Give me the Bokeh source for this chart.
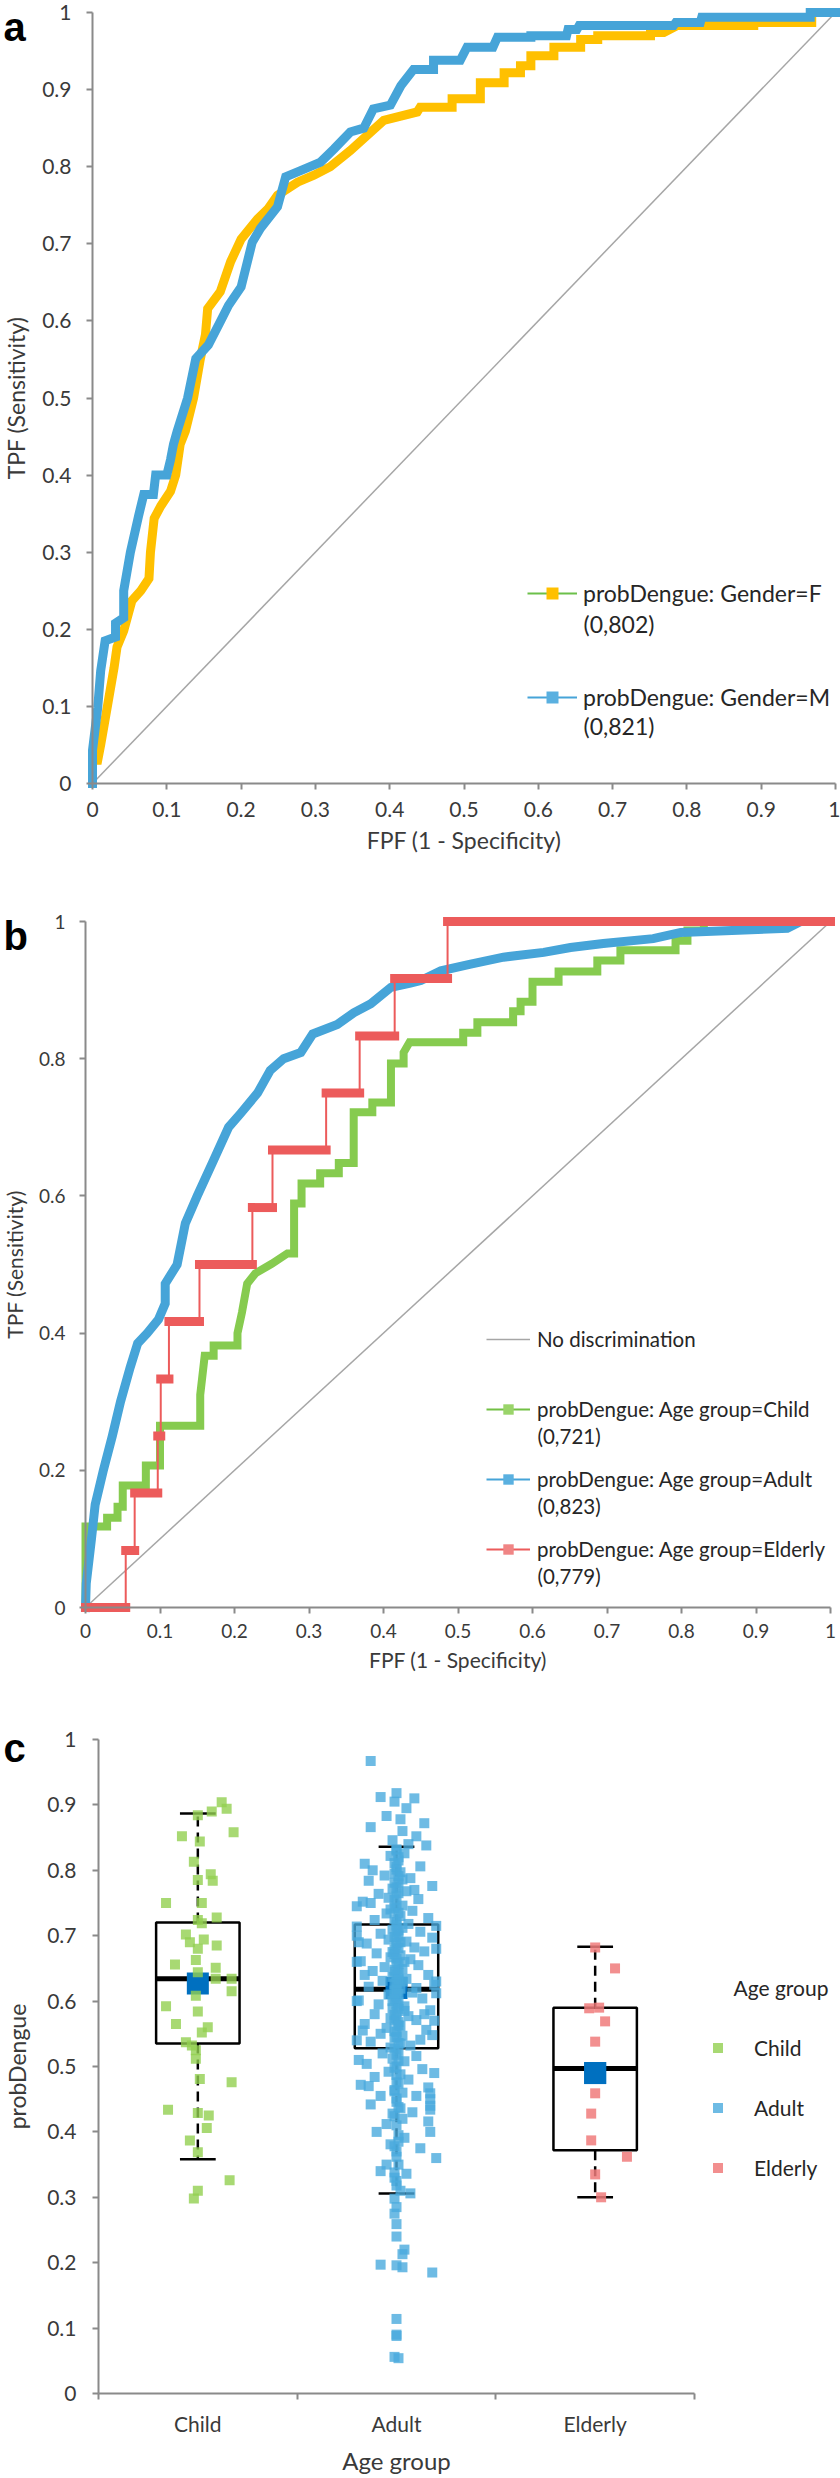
from bokeh.plotting import figure
from bokeh.layouts import column
from bokeh.models import (Legend, LegendItem, Label, FixedTicker, PrintfTickFormatter, Range1d)
from bokeh.embed import file_html
from bokeh.resources import INLINE

# ---------------- data ----------------
# Panel a: ROC by gender (FPF, TPF vertices)
a_f_fpf = [0, 0, 0.007, 0.011, 0.02, 0.029, 0.033, 0.042, 0.053, 0.065, 0.076, 0.078, 0.083, 0.092, 0.105, 0.112, 0.118, 0.125, 0.136, 0.145, 0.152, 0.155, 0.172, 0.186, 0.2, 0.222, 0.236, 0.249, 0.276, 0.298, 0.32, 0.347, 0.37, 0.392, 0.437, 0.441, 0.484, 0.484, 0.522, 0.522, 0.554, 0.554, 0.576, 0.576, 0.59, 0.59, 0.621, 0.621, 0.657, 0.657, 0.68, 0.68, 0.751, 0.751, 0.769, 0.787, 0.89, 0.89, 0.968, 0.968, 1]
a_f_tpf = [0, 0.03, 0.03, 0.05, 0.1, 0.15, 0.177, 0.198, 0.237, 0.25, 0.266, 0.3, 0.344, 0.36, 0.379, 0.4, 0.44, 0.457, 0.5, 0.55, 0.582, 0.616, 0.638, 0.677, 0.706, 0.732, 0.745, 0.763, 0.78, 0.789, 0.8, 0.821, 0.841, 0.86, 0.871, 0.877, 0.877, 0.888, 0.888, 0.909, 0.909, 0.922, 0.922, 0.931, 0.931, 0.944, 0.944, 0.955, 0.955, 0.965, 0.965, 0.97, 0.97, 0.974, 0.974, 0.983, 0.983, 0.987, 0.987, 1.0, 1]
a_m_fpf = [0, 0, 0.007, 0.011, 0.017, 0.031, 0.031, 0.042, 0.042, 0.051, 0.062, 0.069, 0.082, 0.085, 0.1, 0.105, 0.109, 0.114, 0.128, 0.139, 0.156, 0.172, 0.183, 0.2, 0.215, 0.226, 0.249, 0.26, 0.28, 0.307, 0.325, 0.347, 0.365, 0.378, 0.401, 0.415, 0.432, 0.459, 0.459, 0.495, 0.504, 0.539, 0.545, 0.59, 0.59, 0.638, 0.64, 0.652, 0.655, 0.782, 0.785, 0.818, 0.82, 0.966, 0.966, 1]
a_m_tpf = [0, 0.043, 0.098, 0.146, 0.185, 0.19, 0.208, 0.215, 0.25, 0.3, 0.347, 0.375, 0.375, 0.4, 0.4, 0.42, 0.44, 0.457, 0.5, 0.551, 0.569, 0.599, 0.62, 0.644, 0.702, 0.72, 0.748, 0.787, 0.795, 0.806, 0.823, 0.845, 0.85, 0.875, 0.88, 0.905, 0.926, 0.926, 0.938, 0.938, 0.955, 0.955, 0.968, 0.968, 0.97, 0.97, 0.978, 0.978, 0.983, 0.983, 0.987, 0.987, 0.994, 0.994, 1.0, 1]
a_labels = ["probDengue: Gender=F", "probDengue: Gender=M"]
a_auc = ["(0,802)", "(0,821)"]

# Panel b: ROC by age group
b_child_fpf = [0, 0, 0.029, 0.029, 0.043, 0.043, 0.05, 0.05, 0.081, 0.081, 0.1, 0.1, 0.154, 0.154, 0.16, 0.172, 0.172, 0.204, 0.204, 0.21, 0.217, 0.228, 0.25, 0.271, 0.28, 0.28, 0.29, 0.29, 0.315, 0.315, 0.34, 0.34, 0.36, 0.36, 0.385, 0.385, 0.41, 0.41, 0.427, 0.427, 0.435, 0.507, 0.507, 0.526, 0.526, 0.574, 0.574, 0.584, 0.584, 0.6, 0.6, 0.635, 0.635, 0.687, 0.687, 0.718, 0.718, 0.792, 0.792, 0.808, 0.808, 0.83, 0.83, 1]
b_child_tpf = [0, 0.118, 0.118, 0.131, 0.131, 0.147, 0.147, 0.178, 0.178, 0.207, 0.207, 0.265, 0.265, 0.31, 0.367, 0.367, 0.382, 0.382, 0.4, 0.43, 0.472, 0.487, 0.501, 0.516, 0.516, 0.589, 0.589, 0.618, 0.618, 0.633, 0.633, 0.648, 0.648, 0.722, 0.722, 0.736, 0.736, 0.793, 0.793, 0.809, 0.824, 0.824, 0.838, 0.838, 0.853, 0.853, 0.869, 0.869, 0.883, 0.883, 0.912, 0.912, 0.927, 0.927, 0.943, 0.943, 0.958, 0.958, 0.972, 0.972, 0.987, 0.987, 1.0, 1]
b_adult_fpf = [0, 0.001, 0.008, 0.013, 0.024, 0.036, 0.047, 0.06, 0.07, 0.083, 0.098, 0.107, 0.107, 0.123, 0.134, 0.15, 0.172, 0.192, 0.208, 0.231, 0.248, 0.266, 0.289, 0.305, 0.338, 0.36, 0.383, 0.41, 0.436, 0.45, 0.477, 0.517, 0.561, 0.615, 0.651, 0.695, 0.762, 0.799, 0.942, 0.96, 1]
b_adult_tpf = [0, 0.035, 0.1, 0.15, 0.2, 0.25, 0.3, 0.35, 0.385, 0.4, 0.42, 0.443, 0.472, 0.5, 0.56, 0.6, 0.652, 0.7, 0.72, 0.75, 0.783, 0.8, 0.809, 0.836, 0.85, 0.867, 0.88, 0.904, 0.91, 0.914, 0.928, 0.938, 0.948, 0.955, 0.962, 0.968, 0.975, 0.984, 0.99, 1.0, 1]
b_eld_fpf = [0, 0.054, 0.054, 0.066, 0.066, 0.097, 0.097, 0.101, 0.101, 0.112, 0.112, 0.153, 0.153, 0.224, 0.224, 0.251, 0.251, 0.323, 0.323, 0.368, 0.368, 0.415, 0.415, 0.486, 0.486, 1]
b_eld_tpf = [0, 0, 0.083, 0.083, 0.167, 0.167, 0.25, 0.25, 0.333, 0.333, 0.417, 0.417, 0.5, 0.5, 0.583, 0.583, 0.667, 0.667, 0.75, 0.75, 0.833, 0.833, 0.917, 0.917, 1, 1]
b_labels = ["No discrimination", "probDengue: Age group=Child", "probDengue: Age group=Adult", "probDengue: Age group=Elderly"]
b_auc = ["(0,721)", "(0,823)", "(0,779)"]
diag = [0, 1]

# Panel c: probDengue by age group
groups = ["Child", "Adult", "Elderly"]
q1 = [0.535, 0.528, 0.372]
median = [0.634, 0.618, 0.497]
q3 = [0.720, 0.717, 0.590]
whisk_lo = [0.358, 0.306, 0.300]
whisk_hi = [0.887, 0.836, 0.683]
means = [0.627, 0.620, 0.490]

child_points = [(0.904, 0.12), (0.894, 0.145), (0.884, 0.0), (0.890, 0.07), (0.852, -0.08), (0.858, 0.18), (0.844, 0.01), (0.813, -0.02), (0.794, 0.065), (0.784, 0.075), (0.785, 0.0), (0.750, -0.16), (0.750, 0.02), (0.728, 0.095), (0.724, 0.0), (0.719, 0.02), (0.702, -0.06), (0.694, 0.03), (0.690, -0.04), (0.685, 0.095), (0.680, 0.0), (0.663, -0.01), (0.656, -0.115), (0.651, 0.09), (0.644, 0.0), (0.634, 0.17), (0.634, 0.09), (0.615, 0.17), (0.608, -0.01), (0.592, -0.16), (0.584, 0.0), (0.565, -0.11), (0.560, 0.05), (0.552, 0.02), (0.537, -0.06), (0.532, -0.03), (0.525, -0.01), (0.512, -0.01), (0.481, 0.01), (0.476, 0.17), (0.434, -0.15), (0.429, 0.0), (0.425, 0.055), (0.406, 0.045), (0.387, -0.04), (0.369, 0.0), (0.326, 0.16), (0.310, 0.0), (0.298, -0.02)]
adult_points = [(0.967, -0.13), (0.918, 0.0), (0.912, -0.08), (0.910, 0.09), (0.905, -0.01), (0.895, 0.05), (0.883, -0.05), (0.878, 0.02), (0.872, 0.14), (0.866, -0.13), (0.860, 0.03), (0.852, 0.10), (0.846, -0.02), (0.840, 0.06), (0.838, 0.15),
                (0.832, 0.0), (0.826, 0.04), (0.822, -0.03), (0.815, 0.01), (0.810, -0.16), (0.806, 0.12), (0.800, -0.12), (0.797, 0.02), (0.792, -0.06), (0.788, 0.07), (0.784, -0.14), (0.780, 0.01), (0.776, 0.18), (0.772, -0.02), (0.768, 0.05), (0.764, -0.09), (0.760, 0.0), (0.756, 0.11), (0.752, -0.17), (0.750, -0.13), (0.746, 0.03), (0.742, -0.01), (0.738, 0.08), (0.734, -0.05), (0.730, 0.02), (0.727, 0.16), (0.724, -0.11), (0.721, 0.0), (0.718, 0.06), (0.740, -0.03), (0.786, 0.03), (0.805, 0.0), (0.758, -0.04), (0.770, 0.09), (0.795, -0.01),
                (0.714, -0.20), (0.712, 0.03), (0.709, -0.02), (0.706, 0.12), (0.703, -0.08), (0.700, 0.01), (0.697, 0.18), (0.694, -0.04), (0.691, 0.05), (0.688, -0.15), (0.685, 0.00), (0.682, 0.09), (0.679, -0.01), (0.676, 0.14), (0.673, -0.10), (0.670, 0.02), (0.667, -0.03), (0.664, 0.07), (0.661, -0.18), (0.658, 0.00), (0.655, 0.11), (0.652, -0.06), (0.649, 0.03), (0.646, -0.12), (0.643, 0.01), (0.640, 0.16), (0.637, -0.02), (0.634, 0.05), (0.631, -0.07), (0.628, 0.00), (0.625, 0.19), (0.622, -0.14), (0.619, 0.02), (0.616, -0.01), (0.613, 0.08), (0.610, -0.04), (0.607, 0.00), (0.604, 0.13), (0.601, -0.19), (0.598, 0.01), (0.595, -0.09), (0.592, 0.04), (0.589, -0.02), (0.586, 0.17), (0.583, 0.00), (0.580, -0.11), (0.577, 0.06), (0.574, -0.03), (0.571, 0.10), (0.568, 0.01), (0.565, -0.16), (0.562, 0.02), (0.559, -0.05), (0.556, 0.15), (0.553, 0.00), (0.550, -0.08), (0.547, 0.03), (0.544, -0.01), (0.541, 0.12), (0.538, -0.13), (0.535, 0.02), (0.532, 0.07), (0.529, -0.03), (0.660, 0.04), (0.645, -0.01), (0.630, 0.03), (0.615, 0.00), (0.600, -0.02), (0.585, 0.04), (0.570, -0.01), (0.690, 0.02), (0.675, -0.02), (0.705, 0.00), (0.620, 0.10), (0.640, -0.16), (0.580, 0.14), (0.555, -0.17), (0.690, -0.19), (0.548, 0.18), (0.612, 0.20),
                (0.524, 0.01), (0.520, -0.07), (0.516, 0.10), (0.512, -0.02), (0.508, 0.04), (0.504, -0.15), (0.500, 0.00), (0.496, 0.13), (0.492, -0.04), (0.488, 0.02), (0.484, -0.11), (0.480, 0.06), (0.476, 0.00), (0.472, -0.18), (0.468, 0.16), (0.464, -0.01), (0.460, 0.03), (0.459, 0.17), (0.455, -0.08), (0.450, 0.17), (0.446, 0.00), (0.442, -0.13), (0.440, 0.17), (0.436, 0.02), (0.434, 0.17), (0.428, -0.02), (0.420, 0.03), (0.416, 0.16), (0.412, -0.05), (0.400, 0.17), (0.391, 0.04), (0.385, 0.01), (0.381, -0.03), (0.370, 0.00), (0.360, 0.20), (0.340, -0.08), (0.338, -0.01), (0.336, 0.05), (0.325, 0.00), (0.310, 0.02), (0.306, 0.07),
                (0.298, -0.01), (0.285, 0.00), (0.275, -0.01), (0.259, 0.00), (0.240, 0.00), (0.220, 0.04), (0.213, 0.03), (0.197, -0.08), (0.196, 0.00), (0.193, 0.03), (0.185, 0.18), (0.114, 0.00), (0.090, 0.00), (0.088, 0.0), (0.056, -0.01), (0.054, 0.01),
                (0.830, 0.0), (0.820, 0.01), (0.811, -0.01), (0.801, 0.0), (0.791, 0.01), (0.781, -0.01), (0.774, 0.0), (0.765, 0.01), (0.755, -0.01), (0.745, 0.0), (0.735, 0.01), (0.725, -0.01), (0.716, 0.0), (0.708, 0.01), (0.698, -0.01), (0.689, 0.0), (0.681, 0.01), (0.672, -0.01), (0.665, 0.0), (0.657, 0.01), (0.648, -0.01), (0.641, 0.0), (0.633, 0.01), (0.626, -0.01), (0.618, 0.0), (0.611, 0.01), (0.603, -0.01), (0.596, 0.0), (0.588, 0.01), (0.579, -0.01), (0.572, 0.0), (0.563, 0.01), (0.554, -0.01), (0.545, 0.0), (0.536, 0.01), (0.527, -0.01), (0.518, 0.0), (0.509, 0.01), (0.498, -0.01), (0.487, 0.0), (0.474, 0.01), (0.462, -0.01), (0.451, 0.0), (0.438, 0.01), (0.424, -0.01), (0.410, 0.0), (0.395, 0.01), (0.378, -0.01), (0.362, 0.0), (0.350, 0.01), (0.330, -0.01), (0.318, 0.0),
                (0.700, -0.20), (0.680, 0.20), (0.660, -0.20), (0.630, 0.20), (0.600, -0.20), (0.570, 0.19), (0.540, -0.20), (0.745, -0.20), (0.715, 0.20), (0.510, -0.19), (0.490, 0.19), (0.470, -0.14), (0.455, 0.10), (0.430, 0.08), (0.400, -0.10), (0.375, 0.12), (0.350, -0.05)]
elderly_points = [(0.682, 0.0), (0.650, 0.10), (0.589, -0.03), (0.590, 0.02), (0.569, 0.05), (0.538, 0.0), (0.459, 0.0), (0.428, -0.02), (0.387, -0.02), (0.362, 0.16), (0.335, 0.0), (0.300, 0.03)]

ticks_01 = [0, 0.1, 0.2, 0.3, 0.4, 0.5, 0.6, 0.7, 0.8, 0.9, 1]
ticks_02 = [0, 0.2, 0.4, 0.6, 0.8, 1]

# ---------------- style ----------------
FONT = "Lato"
AX = "#8A8A8A"
TXT = "#3A3A3A"
YELLOW = "#FFC000"
BLUE = "#46A4D8"
GREEN = "#86CB4F"
RED = "#EC5B5B"
DIAG = "#A6A6A6"
GREEN_PT = "#92D050"
BLUE_PT = "#4AAADD"
RED_PT = "#F07B7B"
MEAN = "#0070C0"
W = 840
NAN = [float("nan")]


def make_fig(H, left, right, top, bottom, xlim, ylim):
    """Frame covers the whole canvas; axes are pinned at the data origin."""
    sx = (right - left) / (xlim[1] - xlim[0])
    sy = (bottom - top) / (ylim[1] - ylim[0])
    xr = Range1d(xlim[0] - left / sx, xlim[1] + (W - right) / sx)
    yr = Range1d(ylim[0] - (H - bottom) / sy, ylim[1] + top / sy)
    p = figure(width=W, height=H, x_range=xr, y_range=yr, output_backend="svg", toolbar_location=None,
               min_border_left=0, min_border_right=0, min_border_top=0, min_border_bottom=0)
    p.xaxis[0].fixed_location = ylim[0]
    p.yaxis[0].fixed_location = xlim[0]
    p.xaxis[0].bounds = xlim
    p.yaxis[0].bounds = ylim
    return p


def style(p, tick_size, title_size, xlabel, ylabel, xl_sd, xt_sd, yl_sd, yt_sd):
    p.xgrid.visible = False
    p.ygrid.visible = False
    p.outline_line_color = None
    p.background_fill_color = "white"
    p.border_fill_color = "white"
    for ax in (p.xaxis[0], p.yaxis[0]):
        ax.axis_line_color = AX
        ax.axis_line_width = 2
        ax.major_tick_line_color = AX
        ax.major_tick_line_width = 2
        ax.major_tick_out = 6
        ax.major_tick_in = 0
        ax.minor_tick_line_color = None
        ax.major_label_text_font = FONT
        ax.major_label_text_font_size = tick_size
        ax.major_label_text_color = TXT
        ax.axis_label_text_font = FONT
        ax.axis_label_text_font_size = title_size
        ax.axis_label_text_font_style = "normal"
        ax.axis_label_text_color = TXT
    p.xaxis[0].axis_label = xlabel
    p.yaxis[0].axis_label = ylabel
    p.xaxis[0].major_label_standoff = xl_sd
    p.xaxis[0].axis_label_standoff = xt_sd
    p.yaxis[0].major_label_standoff = yl_sd
    p.yaxis[0].axis_label_standoff = yt_sd


def letter(p, txt, x, y):
    p.add_layout(Label(x=x, y=y, x_units="screen", y_units="screen", text=txt,
                       text_font="Liberation Sans", text_font_style="bold",
                       text_font_size="40px", text_color="black", text_baseline="alphabetic"))


def note(p, txt, x, y, size, align="left", x_units="screen", color="#262626"):
    p.add_layout(Label(x=x, y=y, x_units=x_units, y_units="screen", text=txt,
                       text_font=FONT, text_font_size=size, text_color=color,
                       text_baseline="middle", text_align=align))


def legend(items, loc, gw, gh, sp, sd, size):
    return Legend(items=items, location=loc, glyph_width=gw, glyph_height=gh, label_height=gh,
                  spacing=sp, label_standoff=sd, padding=0, margin=0,
                  border_line_alpha=0, background_fill_alpha=0,
                  label_text_font=FONT, label_text_font_size=size, label_text_color="#262626")


# ---------------- panel a (page y 0..876) ----------------
HA = 876
pa = make_fig(HA, 92, 835, 12, 783, (0, 1), (0, 1))
style(pa, "21px", "23px", "FPF (1 - Specificity)", "TPF (Sensitivity)", 12, 6, 15, 9)
pa.xaxis[0].ticker = FixedTicker(ticks=ticks_01)
pa.yaxis[0].ticker = FixedTicker(ticks=ticks_01)
pa.xaxis[0].formatter = PrintfTickFormatter(format="%g")
pa.yaxis[0].formatter = PrintfTickFormatter(format="%g")

pa.line(diag, diag, line_color=DIAG, line_width=1.5)
pa.line(a_f_fpf, a_f_tpf, line_color=YELLOW, line_width=9, line_join="miter", line_cap="square")
pa.line(a_m_fpf, a_m_tpf, line_color=BLUE, line_width=9, line_join="miter", line_cap="square")

lf = pa.line(NAN, NAN, line_color="#6CC04A", line_width=2)
sf = pa.scatter(NAN, NAN, marker="square", fill_color=YELLOW, line_color=None)
lm = pa.line(NAN, NAN, line_color=BLUE, line_width=2)
sm = pa.scatter(NAN, NAN, marker="square", fill_color="#5AB0E0", line_color=None)
pa.add_layout(legend([LegendItem(label=a_labels[0], renderers=[lf, sf]),
                      LegendItem(label=a_labels[1], renderers=[lm, sm])],
                     (527, HA - 712), 50, 30, 74, 6, "23px"))
note(pa, a_auc[0], 583, HA - 623, "23px")
note(pa, a_auc[1], 583, HA - 725, "23px")
letter(pa, "a", 3, HA - 26)

# ---------------- panel b (page y 876..1680) ----------------
HB = 804
Y0B = 876
pb = make_fig(HB, 85, 830, 921 - Y0B, 1607 - Y0B, (0, 1), (0, 1))
style(pb, "19px", "21px", "FPF (1 - Specificity)", "TPF (Sensitivity)", 10, 6, 14, 9)
pb.xaxis[0].ticker = FixedTicker(ticks=ticks_01)
pb.yaxis[0].ticker = FixedTicker(ticks=ticks_02)
pb.xaxis[0].formatter = PrintfTickFormatter(format="%g")
pb.yaxis[0].formatter = PrintfTickFormatter(format="%g")

rd = pb.line(diag, diag, line_color=DIAG, line_width=1.5)
pb.line(b_child_fpf, b_child_tpf, line_color=GREEN, line_width=8, line_join="miter", line_cap="square")
pb.line(b_adult_fpf, b_adult_tpf, line_color=BLUE, line_width=9, line_join="miter", line_cap="square")
pb.line(b_eld_fpf, b_eld_tpf, line_color=RED, line_width=2)
runs = [i for i in range(len(b_eld_fpf) - 1) if b_eld_tpf[i] == b_eld_tpf[i + 1]]
pb.segment([b_eld_fpf[i] for i in runs], [b_eld_tpf[i] for i in runs],
           [b_eld_fpf[i + 1] for i in runs], [b_eld_tpf[i] for i in runs],
           line_color=RED, line_width=9, line_cap="square")

lc = pb.line(NAN, NAN, line_color="#72C044", line_width=2)
sc = pb.scatter(NAN, NAN, marker="square", fill_color="#9AD46A", line_color=None)
la = pb.line(NAN, NAN, line_color=BLUE, line_width=2)
sa = pb.scatter(NAN, NAN, marker="square", fill_color="#5AB0E0", line_color=None)
le = pb.line(NAN, NAN, line_color=RED, line_width=2)
se = pb.scatter(NAN, NAN, marker="square", fill_color="#F08585", line_color=None)
pb.add_layout(legend([LegendItem(label=b_labels[0], renderers=[rd]),
                      LegendItem(label=b_labels[1], renderers=[lc, sc]),
                      LegendItem(label=b_labels[2], renderers=[la, sa]),
                      LegendItem(label=b_labels[3], renderers=[le, se])],
                     (486, HB - (1562 - Y0B)), 44, 26, 44, 7, "20.5px"))
note(pb, b_auc[0], 537, HB - (1435 - Y0B), "20.5px")
note(pb, b_auc[1], 537, HB - (1505 - Y0B), "20.5px")
note(pb, b_auc[2], 537, HB - (1575 - Y0B), "20.5px")
letter(pb, "b", 3, HB - (935 - Y0B))

# ---------------- panel c (page y 1680..2478) ----------------
Y0C = 1680
HC = 2478 - Y0C
pc = make_fig(HC, 98, 694, 1739 - Y0C, 2393 - Y0C, (0, len(groups)), (0, 1))
style(pc, "21px", "23px", "", "probDengue", 10, 6, 16, 13)
pos = [i + 0.5 for i in range(len(groups))]
bounds_c = list(range(len(groups) + 1))
pc.xaxis[0].ticker = FixedTicker(ticks=bounds_c)
pc.xaxis[0].major_label_overrides = {b: "" for b in bounds_c}
pc.yaxis[0].ticker = FixedTicker(ticks=ticks_01)
pc.yaxis[0].formatter = PrintfTickFormatter(format="%g")
for p_, g in zip(pos, groups):
    note(pc, g, p_, HC - (2423 - Y0C), "21px", align="center", x_units="data", color=TXT)
note(pc, "Age group", sum(pos) / len(pos), HC - (2460 - Y0C), "24px", align="center", x_units="data", color=TXT)

BOX_HALF = 0.21
CAP_HALF = 0.09
pc.segment(pos, q3, pos, whisk_hi, line_color="black", line_width=2.5, line_dash="10 6")
pc.segment(pos, q1, pos, whisk_lo, line_color="black", line_width=2.5, line_dash="10 6")
pc.segment([p_ - CAP_HALF for p_ in pos], whisk_hi, [p_ + CAP_HALF for p_ in pos], whisk_hi,
           line_color="black", line_width=2.5)
pc.segment([p_ - CAP_HALF for p_ in pos], whisk_lo, [p_ + CAP_HALF for p_ in pos], whisk_lo,
           line_color="black", line_width=2.5)
pc.quad(left=[p_ - BOX_HALF for p_ in pos], right=[p_ + BOX_HALF for p_ in pos], bottom=q1, top=q3,
        fill_color=None, line_color="black", line_width=2.5)
pc.segment([p_ - BOX_HALF for p_ in pos], median, [p_ + BOX_HALF for p_ in pos], median,
           line_color="black", line_width=5)
pc.scatter(pos, means, marker="square", size=22, fill_color=MEAN, line_color=None)

r_child = pc.scatter([pos[0] + j for v, j in child_points], [v for v, j in child_points],
                     marker="square", size=10, fill_color=GREEN_PT, line_color=None, fill_alpha=0.8)
r_adult = pc.scatter([pos[1] + j for v, j in adult_points], [v for v, j in adult_points],
                     marker="square", size=10, fill_color=BLUE_PT, line_color=None, fill_alpha=0.8)
r_eld = pc.scatter([pos[2] + j for v, j in elderly_points], [v for v, j in elderly_points],
                   marker="square", size=10, fill_color=RED_PT, line_color=None, fill_alpha=0.85)
pc.scatter([pos[2]], [means[2]], marker="square", size=22, fill_color=MEAN, line_color=None)

pc.add_layout(legend([LegendItem(label=groups[0], renderers=[r_child]),
                      LegendItem(label=groups[1], renderers=[r_adult]),
                      LegendItem(label=groups[2], renderers=[r_eld])],
                     (705, HC - (2180 - Y0C)), 25, 25, 35, 24, "21px"))
note(pc, "Age group", 733, HC - (1987 - Y0C), "21px")
letter(pc, "c", 3, HC - (1747 - Y0C))

layout = column(pa, pb, pc, spacing=0)
open("out.html", "w").write(file_html(layout, INLINE))
